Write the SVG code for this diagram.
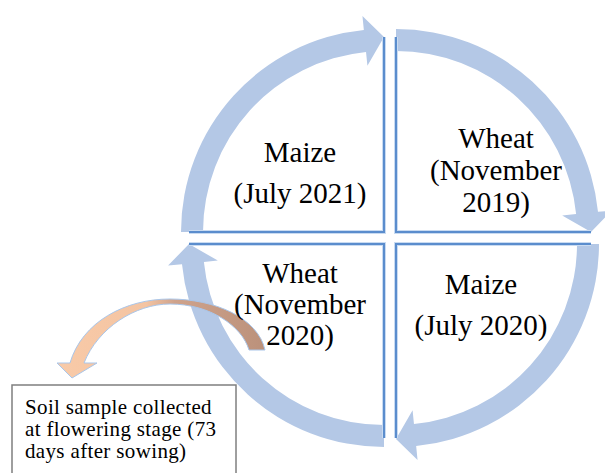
<svg xmlns="http://www.w3.org/2000/svg" xmlns:xlink="http://www.w3.org/1999/xlink" width="605" height="473" viewBox="0 0 605 473">
<defs>
<style>
.arc{fill:#b4c8e6;}
.halo{fill:none;stroke:#c9dbf1;stroke-width:4;}
.edge{fill:none;stroke:#5b8dcd;stroke-width:2;}
.lbl{font-family:"Liberation Serif","Times New Roman",serif;font-size:29px;fill:#000;text-anchor:middle;}
.note{font-family:"Liberation Serif","Times New Roman",serif;font-size:21px;letter-spacing:0.35px;fill:#000;}
</style>
<path id="arcShape" d="M-203,0 A203,203 0 0 1 -20.16,-202.0 L-21.55,-215.93 L0,-195 L-16.58,-166.17 L-17.97,-180.11 A181,181 0 0 0 -181,0 Z"/>
<linearGradient id="og" gradientUnits="userSpaceOnUse" x1="60" y1="0" x2="265" y2="0">
<stop offset="0" stop-color="#f8caa8"/>
<stop offset="0.42" stop-color="#f4c4a2"/>
<stop offset="0.56" stop-color="#cfa38c"/>
<stop offset="1" stop-color="#bb917b"/>
</linearGradient>
</defs>
<rect width="605" height="473" fill="#fff"/>
<g id="node-tl">
<use xlink:href="#arcShape" class="arc" transform="translate(384,232)"/>
<polyline class="halo" points="189,232 384,232 384,37"/>
<polyline class="edge" points="189,232 384,232 384,37"/>
<text class="lbl" x="300" y="162">Maize</text>
<text class="lbl" x="300" y="203">(July 2021)</text>
</g>
<g id="node-tr">
<use xlink:href="#arcShape" class="arc" transform="translate(396,232) rotate(90)"/>
<polyline class="halo" points="396,37 396,232 591,232"/>
<polyline class="edge" points="396,37 396,232 591,232"/>
<text class="lbl" x="496" y="148">Wheat</text>
<text class="lbl" x="496" y="180">(November</text>
<text class="lbl" x="496" y="212">2019)</text>
</g>
<g id="node-br">
<use xlink:href="#arcShape" class="arc" transform="translate(396,244) rotate(180)"/>
<polyline class="halo" points="591,244 396,244 396,438"/>
<polyline class="edge" points="591,244 396,244 396,438"/>
<text class="lbl" x="481" y="294">Maize</text>
<text class="lbl" x="481" y="335">(July 2020)</text>
</g>
<g id="node-bl">
<use xlink:href="#arcShape" class="arc" transform="translate(384,244) rotate(270)"/>
<polyline class="halo" points="189,244 384,244 384,438"/>
<polyline class="edge" points="189,244 384,244 384,438"/>
</g>
<g id="connectors">
<path d="M265,350 C258,318 215,299 170,299 C125,299 82,322 70,363 L57,363 L72,378 L97,363 L84,363 C98,328 135,304 170,304 C210,304 242,326 249,350 Z" fill="url(#og)" stroke="#a9c6ea" stroke-width="1"/>
</g>
<g id="node-bl-label">
<text class="lbl" x="300" y="283">Wheat</text>
<text class="lbl" x="300" y="314">(November</text>
<text class="lbl" x="300" y="345">2020)</text>
</g>
<g id="node-note">
<rect x="12" y="385" width="224" height="100" fill="#fff" stroke="#7f7f7f" stroke-width="1.5"/>
<text class="note" x="25" y="414">Soil sample collected</text>
<text class="note" x="25" y="436">at flowering stage (73</text>
<text class="note" x="25" y="458">days after sowing)</text>
</g>
</svg>
